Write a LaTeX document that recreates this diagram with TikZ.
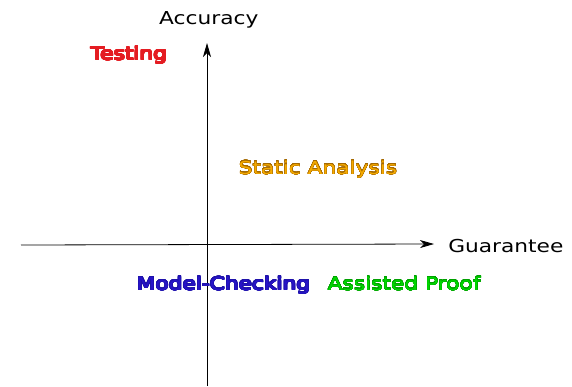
\documentclass[tikz,border=0pt]{standalone}
\usepackage{fontspec}
\setmainfont{DejaVu Sans}
\usepackage{contour}
\contournumber{32}
\usetikzlibrary{arrows.meta}
\definecolor{testred}{RGB}{228,28,34}
\definecolor{saorange}{RGB}{245,170,0}
\definecolor{saedge}{RGB}{165,105,0}
\definecolor{mcblue}{RGB}{40,20,200}
\definecolor{mcedge}{RGB}{30,18,170}
\definecolor{apgreen}{RGB}{0,215,0}
\definecolor{apedge}{RGB}{0,160,0}
% outlined label: #1 outline width, #2 outline colour, #3 fill colour, #4 text
\newcommand{\outl}[4]{\contourlength{#1}\contour{#2}{\textcolor{#3}{#4}}}
\begin{document}
\begin{tikzpicture}[x=1pt,y=-1pt,
  axis/.style={line width=0.8pt,-{Stealth[length=14pt,width=8pt,inset=4pt]}},
  lbl/.style={inner sep=0pt,anchor=base west,xscale=1.22,font=\fontsize{17.8}{20}\selectfont}]
\useasboundingbox (0,0) rectangle (572,386);
% axes
\coordinate (ybot) at (207,386);
\coordinate (ytop) at (207,43);
\coordinate (xleft) at (21,245);
\coordinate (xright) at (434,244);
\draw[axis] (ybot) -- (ytop);
\draw[axis] (xleft) -- (xright);
% axis titles
\node[lbl] (acc) at (159,24.5) {Accuracy};
\node[lbl] (gua) at (448,252.5) {Guarantee};
% techniques
\node[lbl] (test) at (90.5,60) {\outl{0.55pt}{testred}{testred}{Testing}};
\node[lbl] (sa) at (238.5,174) {\outl{0.1pt}{saedge}{saorange}{Static Analysis}};
\node[lbl] (mc) at (136.5,290) {\outl{0.55pt}{mcedge}{mcblue}{Model-Checking}};
\node[lbl] (ap) at (327.5,290) {\outl{0.1pt}{apedge}{apgreen}{Assisted Proof}};
\end{tikzpicture}
\end{document}
